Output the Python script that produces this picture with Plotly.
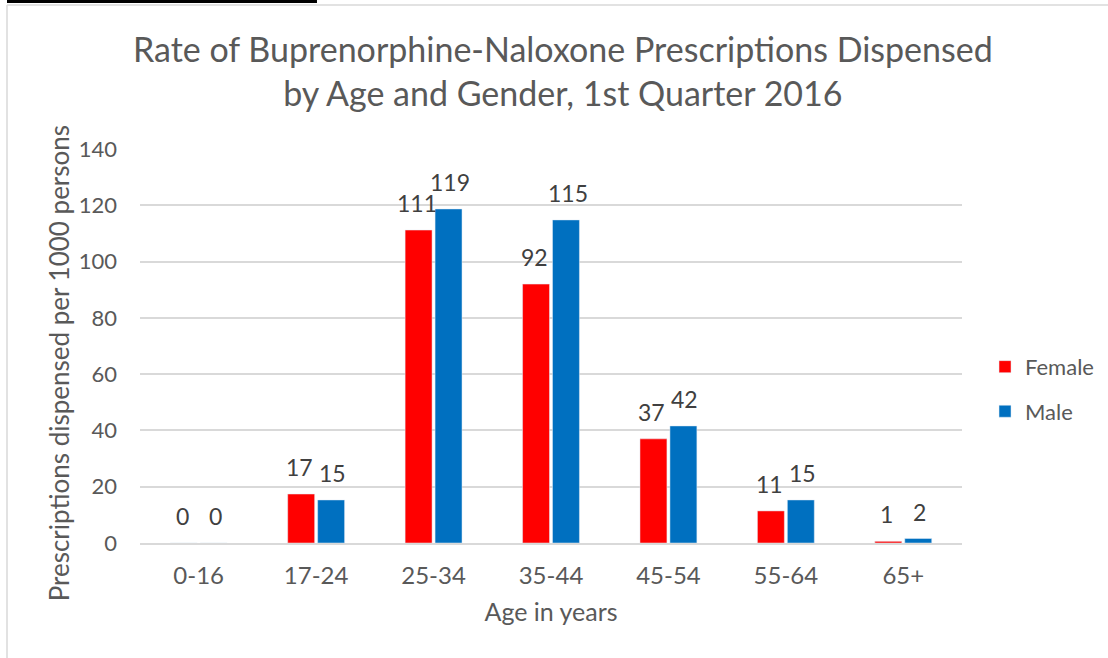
import plotly.graph_objects as go

ages = ["0-16", "17-24", "25-34", "35-44", "45-54", "55-64", "65+"]
female = [0, 17.4, 111.2, 92.0, 37.0, 11.4, 0.6]
male = [0, 15.3, 118.7, 114.8, 41.6, 15.3, 1.6]

FONT = "Lato"
GREY = "#595959"

fig = go.Figure()
fig.add_trace(go.Bar(x=ages, y=female, name="Female", marker_color="#FF0000",
                     legendgroup="f"))
fig.add_trace(go.Bar(x=ages, y=male, name="Male", marker_color="#0070C0",
                     legendgroup="m"))

# data labels above each bar
for vals, shift in [(female, -16.5), (male, 16.5)]:
    for a, v in zip(ages, vals):
        fig.add_annotation(x=a, y=v, text=f"{v:.0f}", showarrow=False,
                           xshift=shift, yshift=11, yanchor="bottom",
                           font=dict(family=FONT, size=23, color="#404040"))

# y axis title
fig.add_annotation(text="Prescriptions dispensed per 1000 persons", textangle=-90,
                   xref="paper", yref="paper", x=-0.099, y=0.455,
                   xanchor="center", yanchor="middle",
                   showarrow=False, font=dict(family=FONT, size=26, color=GREY))

# chart border + cut off bar at the top
line = dict(color="#d9d9d9", width=1.5)
fig.add_shape(type="line", xref="paper", yref="paper", x0=-0.1618, x1=1.18,
              y0=1.3655, y1=1.3655, line=line)
fig.add_shape(type="line", xref="paper", yref="paper", x0=-0.1618, x1=-0.1618,
              y0=1.3655, y1=-0.3, line=line)
fig.add_shape(type="rect", xref="paper", yref="paper", x0=-0.1618, x1=0.2153,
              y0=1.3706, y1=1.38, fillcolor="black", line_width=0)

fig.update_layout(
    width=1108, height=658,
    margin=dict(l=140, r=146, t=149, b=115, autoexpand=False),
    plot_bgcolor="white", paper_bgcolor="white",
    font=dict(family=FONT, color=GREY),
    title=dict(text="Rate of Buprenorphine-Naloxone Prescriptions Dispensed<br>by Age and Gender, 1st Quarter 2016",
               x=0.508, xanchor="center", y=0.906, yanchor="middle",
               font=dict(family=FONT, size=34, color=GREY)),
    barmode="group", bargap=0.49, bargroupgap=0.1,
    legend=dict(x=1.028, y=0.39, xanchor="left", yanchor="middle",
                font=dict(family=FONT, size=22, color=GREY),
                tracegroupgap=13),
    xaxis=dict(showgrid=False, showline=True, linecolor="#d9d9d9", linewidth=1.5,
               ticks="", tickfont=dict(size=24, color=GREY), ticklabelstandoff=10,
               title=dict(text="Age in years", font=dict(size=25, color=GREY), standoff=16)),
    yaxis=dict(range=[0, 140], dtick=20, showgrid=True, gridcolor="#d9d9d9",
               gridwidth=1.5, zeroline=False, ticks="",
               tickfont=dict(size=22, color=GREY), ticklabelstandoff=22),
)

# drop the page's default body margin so the chart sits at the window corner
fig.write_html("out.html", config={"displayModeBar": False},
               post_script="document.body.style.margin='0';")
